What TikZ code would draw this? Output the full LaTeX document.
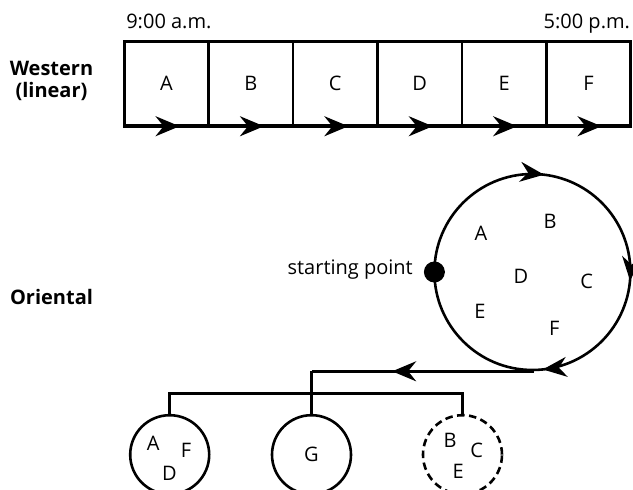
\documentclass[tikz,border=0pt]{standalone}
\usepackage{fontspec}
\setmainfont{Open Sans}
\usetikzlibrary{arrows.meta,decorations.markings}
\tikzset{
 slot/.style={draw,minimum width=84.4pt,minimum height=83.3pt,inner sep=0pt},
 ring/.style={draw,circle,minimum size=79pt,inner sep=0pt},
 flow/.style={postaction={decorate,decoration={markings,
   mark=at position #1 with {\arrow{Stealth[length=24pt,width=20pt,inset=8pt]}}}}},
 side/.style={font=\fontsize{20}{22}\selectfont\bfseries,align=center},
}
\begin{document}
\begin{tikzpicture}[x=1pt,y=1pt,line width=2.6pt,font=\fontsize{20}{22}\selectfont]
 \useasboundingbox (0,0) rectangle (633,490);
 \foreach \t [count=\i] in {A,B,C,D,E,F}
  \node[slot] (s\i) at (82.1+84.4*\i,406.7) {\t};
 \foreach \i in {1,...,6}
  \draw[flow=0.65] (s\i.south west) -- (s\i.south east);
 \node[anchor=base west,inner sep=0pt] (am) at (125,461.7) {9:00 a.m.};
 \node[anchor=base east,inner sep=0pt] (pm) at (631.3,461.7) {5:00 p.m.};
 \node[side] (western) at (51.5,409) {Western\\(linear)};
 \node[side] (oriental) at (51.5,193) {Oriental};

 \node[circle,minimum size=196pt,inner sep=0pt] (cyc) at (533.7,218) {};
 \draw[flow=0.269,flow=0.514,flow=0.733] (cyc.west) arc[start angle=180,end angle=-180,radius=98pt];
 \node[circle,fill,minimum size=21pt,inner sep=0pt] (start) at (cyc.west) {};
 \node[anchor=base east,inner sep=0pt] (sp) at ([xshift=-8.5pt,yshift=-2.3pt]start.west) {starting point};
 \node (ca) at (481,256.7) {A};
 \node (cb) at (550,268.3) {B};
 \node (cd) at (521,214) {D};
 \node (cc) at (586.7,209) {C};
 \node (ce) at (480,178.3) {E};
 \node (cf) at (554.3,161.7) {F};

 \node[ring] (g1) at (169.7,35.3) {};
 \node[ring] (g2) at (311.5,35.3) {G};
 \node[ring,dash pattern=on 7.5pt off 4.5pt] (g3) at (462.5,35.3) {};
 \node (la) at (153.3,46.7) {A};
 \node (lf) at (186,40) {F};
 \node (ld) at (169.3,16.7) {D};
 \node (rb) at (450,50) {B};
 \node (rc) at (476.7,40) {C};
 \node (re) at (458.3,18.3) {E};

 \coordinate (split) at (g2.north |- cyc.south);
 \coordinate (bar) at (311.5,96.7);
 \draw[flow=0.637] (cyc.south) -- (split);
 \draw (split) -- (g2.north);
 \draw (g1.north) |- (bar) -| (g3.north);
\end{tikzpicture}
\end{document}
